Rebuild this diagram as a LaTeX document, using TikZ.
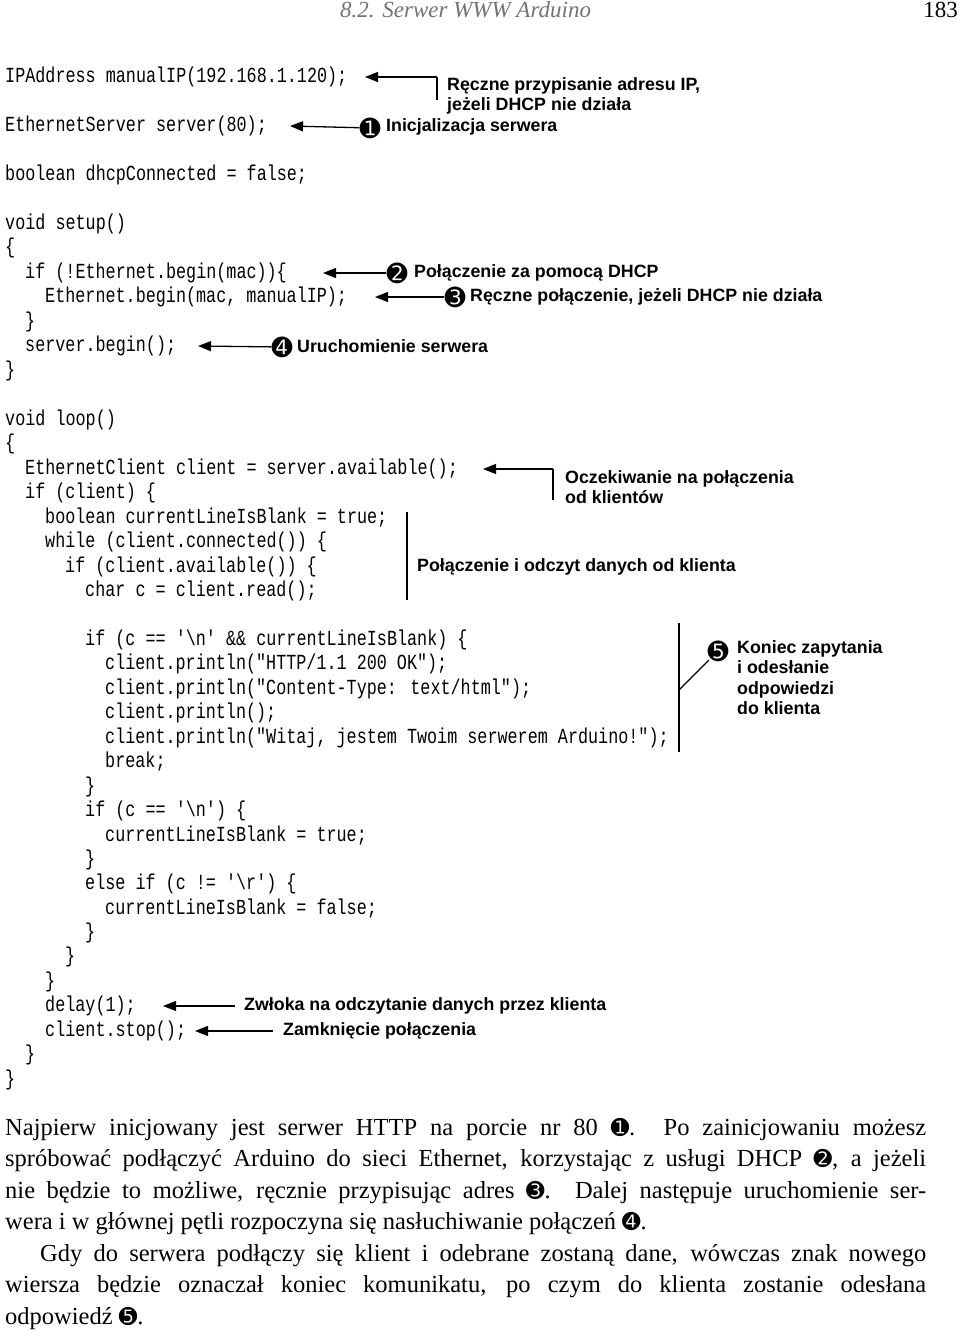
\documentclass[tikz,border=0pt]{standalone}
\usepackage{fontspec}
\setmainfont{Liberation Serif}
\newfontfamily\codefont[FakeStretch=0.78]{Liberation Mono}
\newfontfamily\annfont{Liberation Sans}
\newfontfamily\dv{DejaVu Sans}
\usetikzlibrary{arrows.meta}
\newcommand\cnm[1]{{\dv\fontsize{22}{22}\selectfont#1}}
\tikzset{
 code/.style={anchor=west,inner sep=0pt,font=\codefont\fontsize{21.5}{24}\selectfont},
 ann/.style={anchor=west,inner sep=0pt,align=left,font=\annfont\bfseries\fontsize{17.8}{20}\selectfont},
 arr/.style={-{Triangle[length=13pt,width=10pt]},line width=1.3pt},
 ln/.style={line width=1.3pt},
 cn/.style={inner sep=0pt,font=\dv\fontsize{25}{25}\selectfont}
}
\begin{document}
\begin{tikzpicture}[x=1pt,y=-1pt]
\useasboundingbox (0,0) rectangle (960,1339);
\node[anchor=west,inner sep=0pt,text=black!55,font=\itshape\fontsize{23}{24}\selectfont] (hd) at (340,10) {8.2. Serwer WWW Arduino};
\node[anchor=east,inner sep=0pt,font=\fontsize{23}{24}\selectfont] (pg) at (958,10) {183};
% code
\foreach \t/\y/\i [count=\n] in {
{IPAddress manualIP(192.168.1.120);}/77/0,
{EthernetServer server(80);}/126/0,
{boolean dhcpConnected = false;}/175/0,
{void setup()}/224/0,
{\{}/248/0,
{if (!Ethernet.begin(mac))\{}/273/1,
{Ethernet.begin(mac, manualIP);}/297/2,
{\}}/322/1,
{server.begin();}/346/1,
{\}}/371/0,
{void loop()}/420/0,
{\{}/444/0,
{EthernetClient client = server.available();}/469/1,
{if (client) \{}/493/1,
{boolean currentLineIsBlank = true;}/518/2,
{while (client.connected()) \{}/542/2,
{if (client.available()) \{}/567/3,
{char c = client.read();}/591/4,
{if (c == '\textbackslash n' \&\& currentLineIsBlank) \{}/640/4,
{client.println("HTTP/1.1 200 OK");}/664/5,
{client.println("Content-Type: text/html");}/689/5,
{client.println();}/713/5,
{client.println("Witaj, jestem Twoim serwerem Arduino!");}/738/5,
{break;}/762/5,
{\}}/787/4,
{if (c == '\textbackslash n') \{}/811/4,
{currentLineIsBlank = true;}/836/5,
{\}}/860/4,
{else if (c != '\textbackslash r') \{}/884/4,
{currentLineIsBlank = false;}/909/5,
{\}}/933/4,
{\}}/957/3,
{\}}/982/2,
{delay(1);}/1006/2,
{client.stop();}/1031/2,
{\}}/1055/1,
{\}}/1080/0}
 \node[code] (c\n) at (5+20*\i,\y) {\t};
% annotations
\coordinate (k1) at (437,77); \coordinate (k1b) at (437,100);
\draw[ln] (k1b) -- (k1);
\draw[arr] (k1) -- (365,77);
\node[ann] (a1) at (447,96) {Ręczne przypisanie adresu IP,\\jeżeli DHCP nie działa};
\node[cn] (n1) at (370,128) {➊};
\node[ann] (a2) at (386,127) {Inicjalizacja serwera};
\draw[arr] (n1) -- (290,126);
\node[cn] (n2) at (397,273) {➋};
\node[ann] (a3) at (414,273) {Połączenie za pomocą DHCP};
\draw[arr] (n2) -- (323,273);
\node[cn] (n3) at (455,297) {➌};
\node[ann] (a4) at (470,297) {Ręczne połączenie, jeżeli DHCP nie działa};
\draw[arr] (n3) -- (375,297);
\node[cn] (n4) at (282,347) {➍};
\node[ann] (a5) at (297,346) {Uruchomienie serwera};
\draw[arr] (n4) -- (198,346);
\coordinate (k6) at (553,469);
\draw[ln] (553,500) -- (k6);
\draw[arr] (k6) -- (483,469);
\node[ann] (a6) at (565,487) {Oczekiwanie na połączenia\\od klientów};
\draw[ln] (407,512) -- (407,600);
\node[ann] (a7) at (417,567) {Połączenie i odczyt danych od klienta};
\coordinate (k8) at (679,690);
\draw[ln] (679,623) -- (679,752);
\node[cn] (n5) at (718,651) {➎};
\draw[ln] (k8) -- (709,660);
\node[ann,anchor=north west,font=\annfont\bfseries\fontsize{17.8}{20.5}\selectfont] (a8) at (737,640) {Koniec zapytania\\i odesłanie\\odpowiedzi\\do klienta};
\coordinate (k9) at (235,1006);
\draw[arr] (k9) -- (163,1006);
\node[ann] (a9) at (244,1006) {Zwłoka na odczytanie danych przez klienta};
\coordinate (k10) at (273,1031);
\draw[arr] (k10) -- (195,1031);
\node[ann] (a10) at (283,1031) {Zamknięcie połączenia};
% body text
\node[anchor=north west,inner sep=0pt,text width=921pt,align=justify,font=\fontsize{24.5}{31.5}\selectfont] (body) at (5,1118) {%
\noindent Najpierw inicjowany jest serwer HTTP na porcie nr 80 \cnm{➊}. Po zainicjowaniu możesz\linebreak
spróbować podłączyć Arduino do sieci Ethernet, korzystając z usługi DHCP \cnm{➋}, a jeżeli\linebreak
nie będzie to możliwe, ręcznie przypisując adres \cnm{➌}. Dalej następuje uruchomienie ser-\linebreak
wera i w głównej pętli rozpoczyna się nasłuchiwanie połączeń \cnm{➍}.\par
\hspace*{35pt}Gdy do serwera podłączy się klient i odebrane zostaną dane, wówczas znak nowego\linebreak
wiersza będzie oznaczał koniec komunikatu, po czym do klienta zostanie odesłana\linebreak
odpowiedź \cnm{➎}.};
\end{tikzpicture}
\end{document}
